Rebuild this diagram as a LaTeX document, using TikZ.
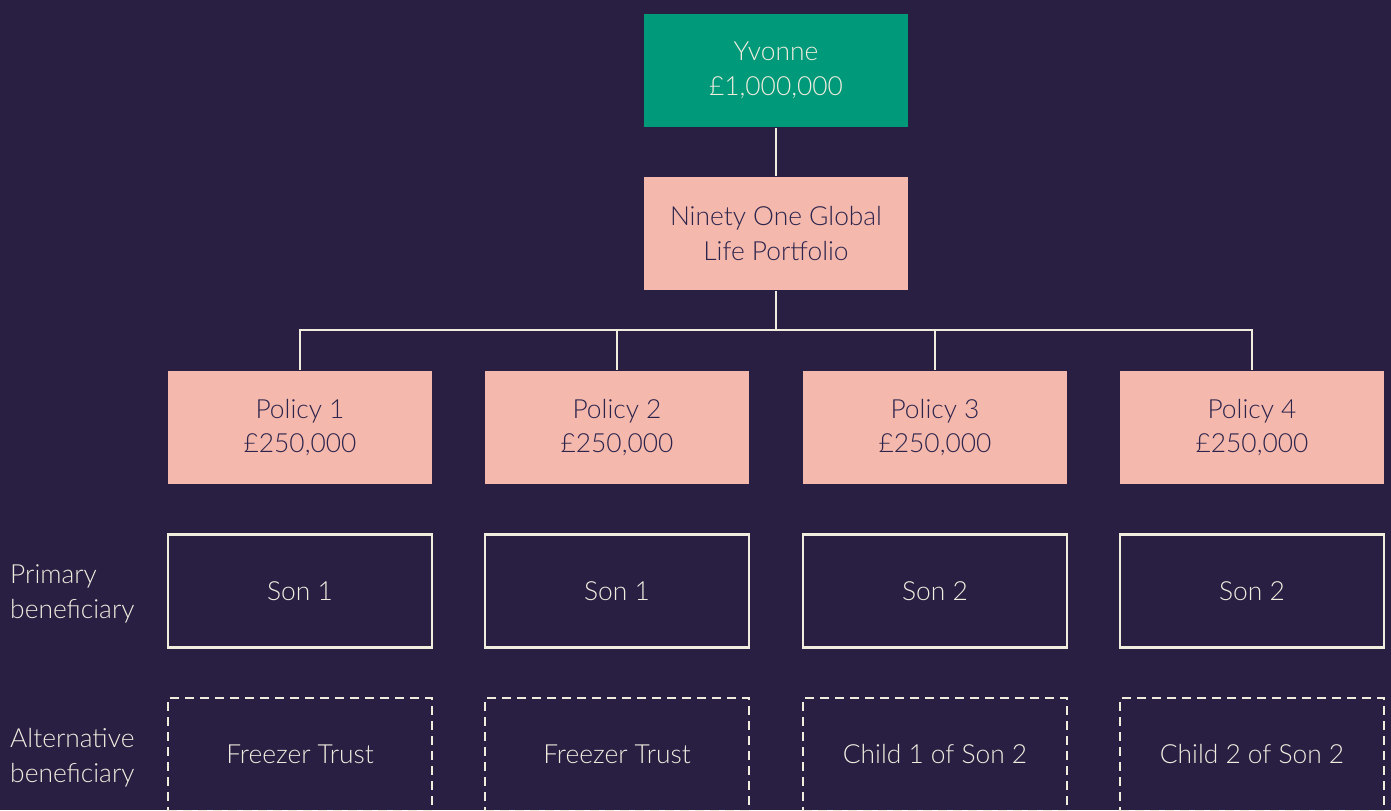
\documentclass[tikz,border=0pt]{standalone}
\usepackage{fontspec}
\setmainfont{Lato Light}
\definecolor{bgpurple}{RGB}{40,31,67}
\definecolor{ngreen}{RGB}{0,154,122}
\definecolor{npink}{RGB}{244,185,172}
\definecolor{ncream}{RGB}{240,236,222}
\definecolor{ntext}{RGB}{45,36,77}
\tikzset{
	box/.style = {rectangle, minimum width = 2.64cm, minimum height = 1.13cm, inner sep = 0pt, align = center, font = \fontsize{7.5}{9.9}\selectfont},
	topbox/.style = {box, fill = ngreen, text = ncream},
	pinkbox/.style = {box, fill = npink, text = ntext},
	sonbox/.style = {box, draw = ncream, line width = .7pt, text = ncream},
	altbox/.style = {sonbox, dash pattern = on .09cm off .06cm},
	sidelabel/.style = {anchor = west, align = left, inner sep = 0pt, text = ncream, font = \fontsize{7.5}{9.9}\selectfont}
}
\begin{document}
\begin{tikzpicture}[line width = .7pt, draw = ncream]
			\useasboundingbox (0,0) rectangle (13.91,8.10);
			\clip (0,0) rectangle (13.91,8.10);
			\fill [bgpurple] (0,0) rectangle (13.91,8.10);
			\node[topbox] (yvonne) at (7.76,7.395) {Yvonne\\\pounds1,000,000};
			\node[pinkbox] (portfolio) at (7.76,5.765) {Ninety One Global\\Life Portfolio};
			\coordinate (bar) at (7.76,4.80);
			\draw [ncream] (yvonne) -- (portfolio);
			\draw [ncream] (portfolio) -- (bar);
			\foreach \n/\x/\son/\alt in {1/3.00/Son 1/Freezer Trust, 2/6.17/Son 1/Freezer Trust, 3/9.35/Son 2/Child 1 of Son 2, 4/12.52/Son 2/Child 2 of Son 2}{
				\node[pinkbox] (policy\n) at (\x,3.825) {Policy \n\\\pounds250,000};
				\node[sonbox] (primary\n) at (\x,2.19) {\son};
				\node[altbox] (alternative\n) at (\x,.555) {\alt};
				\draw [ncream] (policy\n.north) |- (bar);
			}
			\node[sidelabel] (primarylabel) at (.09,2.16) {Primary\\beneficiary};
			\node[sidelabel] (altlabel) at (.09,.525) {Alternative\\beneficiary};
			\end{tikzpicture}
\end{document}
